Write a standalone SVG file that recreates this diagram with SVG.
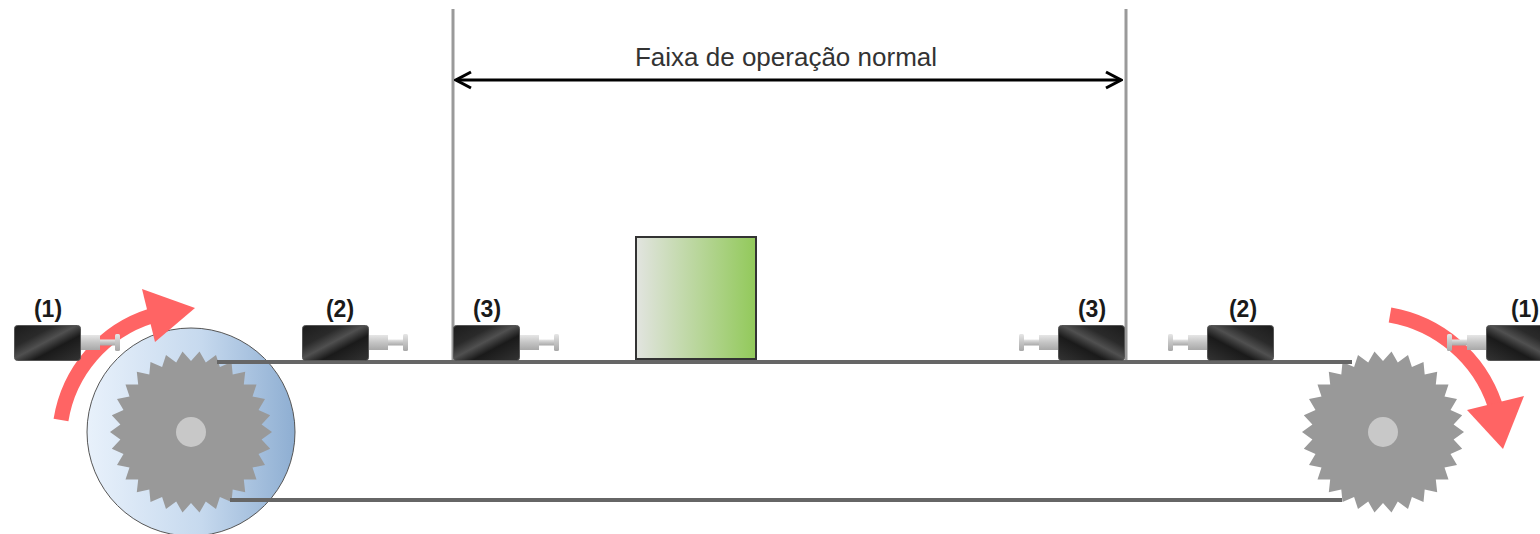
<svg xmlns="http://www.w3.org/2000/svg" xmlns:xlink="http://www.w3.org/1999/xlink" width="1540" height="534" viewBox="0 0 1540 534">
  <style>
    .label { font-family: "Liberation Sans Narrow", "Liberation Sans", Arial, sans-serif; font-weight: bold; font-size: 23px; fill: #1a1a1a; text-anchor: middle; }
    .title { font-family: "Liberation Sans", Arial, sans-serif; font-size: 26px; fill: #333333; text-anchor: middle; }
    .belt { stroke: #666666; stroke-width: 4; fill: none; }
    .limit { stroke: #9a9a9a; stroke-width: 3; fill: none; }
    .gear { fill: #999999; }
    .hub { fill: #c8c8c8; }
    .turn { stroke: #ff6464; stroke-width: 15; fill: none; }
    .turnHead { fill: #ff6464; }
  </style>
  <defs>
    <linearGradient id="sensorGrad" x1="0" y1="0" x2="1" y2="1">
      <stop offset="0" stop-color="#1c1c1c"/>
      <stop offset="0.3" stop-color="#2a2a2a"/>
      <stop offset="0.47" stop-color="#505050"/>
      <stop offset="0.64" stop-color="#1a1a1a"/>
      <stop offset="1" stop-color="#333333"/>
    </linearGradient>
    <linearGradient id="pistonGrad" x1="0" y1="0" x2="0" y2="1">
      <stop offset="0" stop-color="#e6e6e6"/>
      <stop offset="0.5" stop-color="#c4c4c4"/>
      <stop offset="1" stop-color="#a8a8a8"/>
    </linearGradient>
    <linearGradient id="drumGrad" x1="0" y1="0" x2="1" y2="0">
      <stop offset="0" stop-color="#e8f1fb"/>
      <stop offset="0.55" stop-color="#c6d9ee"/>
      <stop offset="1" stop-color="#8eaed2"/>
    </linearGradient>
    <linearGradient id="boxGrad" x1="0" y1="0" x2="1" y2="0">
      <stop offset="0" stop-color="#e2e4e0"/>
      <stop offset="1" stop-color="#92c95a"/>
    </linearGradient>
    <marker id="openHead" viewBox="0 0 20 20" refX="18" refY="10" markerWidth="20" markerHeight="20" markerUnits="userSpaceOnUse" orient="auto-start-reverse">
      <path d="M3,2 L18,10 L3,18" fill="none" stroke="#000" stroke-width="3"/>
    </marker>
    <!-- sensor with plunger pointing to +x; box is 66 x 35 -->
    <g id="sensor">
      <rect x="66" y="10" width="20" height="15" fill="url(#pistonGrad)"/>
      <rect x="86" y="14.5" width="16" height="6" fill="url(#pistonGrad)"/>
      <rect x="101" y="9" width="5" height="17" rx="1.5" fill="url(#pistonGrad)"/>
      <rect x="0.5" y="0.5" width="66" height="35" rx="3" fill="url(#sensorGrad)" stroke="#555" stroke-width="1"/>
    </g>
    <!-- 30-tooth sprocket outline, centred on origin -->
    <polygon id="sprocket" class="gear" points="81,0 70.6,7.4 79.2,16.8 67.5,21.9 74,32.9 61.5,35.5 65.5,47.6 52.8,47.5 54.2,60.2 41.7,57.4 40.5,70.1 28.9,64.9 25,77 14.8,69.4 8.5,80.6 0,71 -8.5,80.6 -14.8,69.4 -25,77 -28.9,64.9 -40.5,70.1 -41.7,57.4 -54.2,60.2 -52.8,47.5 -65.5,47.6 -61.5,35.5 -74,32.9 -67.5,21.9 -79.2,16.8 -70.6,7.4 -81,0 -70.6,-7.4 -79.2,-16.8 -67.5,-21.9 -74,-32.9 -61.5,-35.5 -65.5,-47.6 -52.8,-47.5 -54.2,-60.2 -41.7,-57.4 -40.5,-70.1 -28.9,-64.9 -25,-77 -14.8,-69.4 -8.5,-80.6 0,-71 8.5,-80.6 14.8,-69.4 25,-77 28.9,-64.9 40.5,-70.1 41.7,-57.4 54.2,-60.2 52.8,-47.5 65.5,-47.6 61.5,-35.5 74,-32.9 67.5,-21.9 79.2,-16.8 70.6,-7.4"/>
  </defs>

  <!-- operating range limits -->
  <g id="range">
    <line class="limit" x1="453" y1="9" x2="453" y2="362"/>
    <line class="limit" x1="1126" y1="9" x2="1126" y2="362"/>
    <text class="title" x="786" y="66">Faixa de operação normal</text>
  </g>

  <!-- drive drum with sprocket (left) -->
  <g id="drive-drum">
    <circle cx="191" cy="432" r="104" fill="url(#drumGrad)" stroke="#555" stroke-width="1"/>
    <use xlink:href="#sprocket" transform="translate(191,432)"/>
    <circle class="hub" cx="191" cy="432" r="15"/>
  </g>

  <!-- idler sprocket (right) -->
  <g id="idler">
    <use xlink:href="#sprocket" transform="translate(1383,432)"/>
    <circle class="hub" cx="1383" cy="432" r="15"/>
  </g>

  <g id="connectors">
    <!-- belt runs -->
    <line class="belt" x1="217" y1="362" x2="1352" y2="362"/>
    <line class="belt" x1="230" y1="500" x2="1342" y2="500"/>
    <!-- range dimension arrow -->
    <line x1="456" y1="80" x2="1121" y2="80" stroke="#000" stroke-width="3" marker-start="url(#openHead)" marker-end="url(#openHead)"/>
    <!-- rotation arrows -->
    <path class="turn" d="M61,420 A131 131 0 0 1 151,316"/>
    <polygon class="turnHead" points="142,289 195,308 155,342"/>
    <path class="turn" d="M1390,315 A135 135 0 0 1 1495,405"/>
    <polygon class="turnHead" points="1467,410 1524,396 1503,449"/>
  </g>

  <!-- load on the belt -->
  <g id="load">
    <rect x="636" y="237" width="120" height="122" fill="url(#boxGrad)" stroke="#333" stroke-width="2"/>
  </g>

  <!-- sensors -->
  <g id="sensor-1-left">
    <use xlink:href="#sensor" transform="translate(14,325)"/>
    <text class="label" x="48" y="317">(1)</text>
  </g>
  <g id="sensor-2-left">
    <use xlink:href="#sensor" transform="translate(302,325)"/>
    <text class="label" x="340" y="317">(2)</text>
  </g>
  <g id="sensor-3-left">
    <use xlink:href="#sensor" transform="translate(453,325)"/>
    <text class="label" x="487" y="317">(3)</text>
  </g>
  <g id="sensor-3-right">
    <use xlink:href="#sensor" transform="translate(1125,325) scale(-1,1)"/>
    <text class="label" x="1092" y="317">(3)</text>
  </g>
  <g id="sensor-2-right">
    <use xlink:href="#sensor" transform="translate(1274,325) scale(-1,1)"/>
    <text class="label" x="1243" y="317">(2)</text>
  </g>
  <g id="sensor-1-right">
    <use xlink:href="#sensor" transform="translate(1553,325) scale(-1,1)"/>
    <text class="label" x="1525" y="317">(1)</text>
  </g>
</svg>
